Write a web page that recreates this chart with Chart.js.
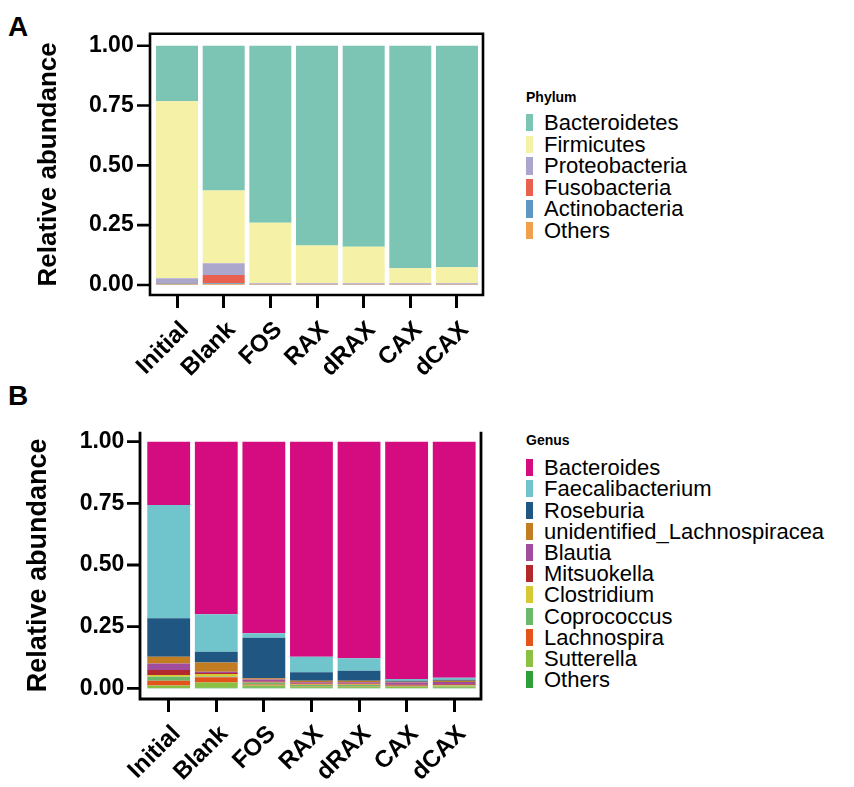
<!DOCTYPE html>
<html>
<head>
<meta charset="utf-8">
<title>Relative abundance</title>
<script src="https://cdn.jsdelivr.net/npm/chart.js@4.4.0/dist/chart.umd.min.js"></script>
<style>
  html, body { margin: 0; padding: 0; background: #fff; }
  body { width: 854px; height: 787px; position: relative; overflow: hidden;
         font-family: "Liberation Sans", Arial, sans-serif; color: #000; }
  .panel-tag { position: absolute; left: 8px; font-weight: bold; font-size: 28px; line-height: 28px; }
  .chart-box { position: absolute; left: 0; width: 500px; }
  .legend-title { position: absolute; left: 526px; font-weight: bold; font-size: 14px; line-height: 16px; }
  .legend-row { position: absolute; left: 526px; padding-left: 18px; font-size: 22px; white-space: nowrap; }
  .legend-row .swatch { position: absolute; left: 0; width: 7px; }
</style>
</head>
<body>
<div class="panel-tag" style="top:13px">A</div>
<div class="panel-tag" style="top:382px">B</div>
<div class="chart-box" style="top:0; height:380px"><canvas id="phylumChart"></canvas></div>
<div class="chart-box" style="top:380px; height:407px"><canvas id="genusChart"></canvas></div>
<div id="legendA"></div>
<div id="legendB"></div>

<script>
// --- Data ---
const groups = ['Initial', 'Blank', 'FOS', 'RAX', 'dRAX', 'CAX', 'dCAX'];
const yTicks = [0, 0.25, 0.5, 0.75, 1];

// Panel A: phylum level (legend order, top of stack first)
const phylumNames = ['Bacteroidetes', 'Firmicutes', 'Proteobacteria', 'Fusobacteria', 'Actinobacteria', 'Others'];
const phylumColors = ['#7cc4b4', '#f5f1a6', '#aba7cc', '#e9604f', '#5e97c2', '#f1a04e'];
const bacteroidetes  = [0.232, 0.605, 0.740, 0.835, 0.840, 0.930, 0.926];
const firmicutes     = [0.740, 0.304, 0.253, 0.158, 0.153, 0.063, 0.067];
const proteobacteria = [0.020, 0.049, 0.004, 0.004, 0.004, 0.004, 0.004];
const fusobacteria   = [0.002, 0.035, 0.001, 0.001, 0.001, 0.001, 0.001];
const actinobacteria = [0.004, 0.004, 0.001, 0.001, 0.001, 0.001, 0.001];
const phylumOthers   = [0.002, 0.003, 0.001, 0.001, 0.001, 0.001, 0.001];

// Panel B: genus level (legend order, top of stack first)
const genusNames = ['Bacteroides', 'Faecalibacterium', 'Roseburia', 'unidentified_Lachnospiracea', 'Blautia',
                    'Mitsuokella', 'Clostridium', 'Coprococcus', 'Lachnospira', 'Sutterella', 'Others'];
const genusColors = ['#d50c7f', '#70c5cc', '#1f5682', '#c27c22', '#a04d9e',
                     '#b3282c', '#d6c933', '#6cb86b', '#e2541c', '#8cc043', '#2f9e3a'];
const bacteroides      = [0.257, 0.700, 0.777, 0.872, 0.878, 0.962, 0.957];
const faecalibacterium = [0.459, 0.152, 0.018, 0.063, 0.051, 0.007, 0.008];
const roseburia        = [0.156, 0.043, 0.164, 0.034, 0.040, 0.004, 0.004];
const unidLachno       = [0.027, 0.038, 0.005, 0.006, 0.006, 0.003, 0.005];
const blautia          = [0.027, 0.005, 0.008, 0.006, 0.006, 0.010, 0.010];
const mitsuokella      = [0.020, 0.004, 0.004, 0.004, 0.004, 0.004, 0.004];
const clostridium      = [0.007, 0.010, 0.001, 0.002, 0.002, 0.001, 0.002];
const coprococcus      = [0.016, 0.003, 0.008, 0.004, 0.004, 0.002, 0.002];
const lachnospira      = [0.020, 0.021, 0.004, 0.002, 0.002, 0.001, 0.001];
const sutterella       = [0.010, 0.022, 0.008, 0.005, 0.005, 0.005, 0.005];
const genusOthers      = [0.001, 0.002, 0.003, 0.002, 0.002, 0.001, 0.002];

const phylumSeries = [bacteroidetes, firmicutes, proteobacteria, fusobacteria, actinobacteria, phylumOthers];
const genusSeries = [bacteroides, faecalibacterium, roseburia, unidLachno, blautia, mitsuokella,
                     clostridium, coprococcus, lachnospira, sutterella, genusOthers];

const FONT = '"Liberation Sans", Arial, sans-serif';

// Chart.js stacks the first dataset at the bottom, so reverse the legend order
function buildDatasets(names, colors, series) {
    return names.map((name, i) => ({
        label: name,
        data: series[i],
        backgroundColor: colors[i],
        borderWidth: 0,
        barPercentage: 0.9,
        categoryPercentage: 1
    })).reverse();
}

// Draws the axis frame and the y tick marks just outside the bar area
function framePlugin(cfg) {
    return {
        id: 'frame',
        afterDraw(chart) {
            const { ctx, chartArea } = chart;
            const yScale = chart.scales.y;
            const left = chartArea.left - cfg.padLeft;
            const right = chartArea.right + cfg.padRight;
            const top = chartArea.top;
            const bottom = chartArea.bottom;
            ctx.save();
            ctx.strokeStyle = '#000';
            ctx.lineWidth = cfg.lineWidth;
            ctx.beginPath();
            if (cfg.closed) {
                ctx.rect(left, top, right - left, bottom - top);
            } else {
                ctx.moveTo(left, top);
                ctx.lineTo(left, bottom);
                ctx.lineTo(right, bottom);
                ctx.lineTo(right, top);
            }
            yTicks.forEach(v => {
                const y = yScale.getPixelForValue(v);
                ctx.moveTo(left - cfg.tickLen, y);
                ctx.lineTo(left, y);
            });
            ctx.stroke();
            ctx.restore();
        }
    };
}

function makeChart(canvasId, names, colors, series, layout) {
    const ctx = document.getElementById(canvasId).getContext('2d');
    return new Chart(ctx, {
        type: 'bar',
        data: { labels: groups, datasets: buildDatasets(names, colors, series) },
        plugins: [framePlugin(layout.frame)],
        options: {
            responsive: true,
            maintainAspectRatio: false,
            animation: false,
            layout: { padding: { top: layout.top, right: layout.right, left: 0, bottom: 0 } },
            plugins: { legend: { display: false }, tooltip: { enabled: false } },
            scales: {
                x: {
                    stacked: true,
                    afterFit: s => { s.height = layout.xHeight; },
                    border: { display: false },
                    grid: { display: true, drawOnChartArea: false, offset: false,
                            drawTicks: true, tickLength: 13, tickWidth: 3, tickColor: '#000' },
                    ticks: { autoSkip: false, minRotation: 45, maxRotation: 45,
                             padding: layout.xPad, labelOffset: 8,
                             color: '#000', font: { family: FONT, size: 24, weight: 'bold' } }
                },
                y: {
                    stacked: true,
                    min: layout.yMin,
                    max: layout.yMax,
                    afterFit: s => { s.width = layout.yWidth; },
                    afterBuildTicks: s => { s.ticks = yTicks.map(v => ({ value: v })); },
                    border: { display: false },
                    grid: { display: false, drawTicks: false },
                    ticks: { padding: layout.tickPad, color: '#000',
                             font: { family: FONT, size: 23, weight: 'bold' },
                             callback: v => Number(v).toFixed(2) },
                    title: { display: true, text: 'Relative abundance', color: '#000',
                             padding: { top: layout.titlePad, bottom: 0 },
                             font: { family: FONT, size: layout.titleSize, weight: 'bold' } }
                }
            }
        }
    });
}

// Legend built in HTML from the same names and colours
function buildLegend(containerId, title, names, colors, titleCenter, firstCenter, step) {
    const box = document.getElementById(containerId);
    const t = document.createElement('div');
    t.className = 'legend-title';
    t.textContent = title;
    t.style.top = (titleCenter - 8) + 'px';
    box.appendChild(t);
    names.forEach((name, i) => {
        const row = document.createElement('div');
        row.className = 'legend-row';
        row.style.top = (firstCenter + i * step - step / 2) + 'px';
        row.style.height = step + 'px';
        row.style.lineHeight = step + 'px';
        const sw = document.createElement('span');
        sw.className = 'swatch';
        sw.style.background = colors[i];
        sw.style.top = '2px';
        sw.style.height = (step - 4) + 'px';
        row.appendChild(sw);
        row.appendChild(document.createTextNode(name));
        box.appendChild(row);
    });
}

makeChart('phylumChart', phylumNames, phylumColors, phylumSeries, {
    top: 33, right: 19.7, xHeight: 85, yWidth: 153.7, tickPad: 20, xPad: 8,
    yMin: -0.042, yMax: 1.05, titlePad: 33, titleSize: 26,
    frame: { closed: true, padLeft: 3.7, padRight: 2.7, lineWidth: 2.6, tickLen: 13 }
});

makeChart('genusChart', genusNames, genusColors, genusSeries, {
    top: 51.7, right: 22, xHeight: 88, yWidth: 144.9, tickPad: 20.5, xPad: 8,
    yMin: -0.0434, yMax: 1.0405, titlePad: 22, titleSize: 27,
    frame: { closed: false, padLeft: 4.9, padRight: 3, lineWidth: 2.8, tickLen: 13 }
});

buildLegend('legendA', 'Phylum', phylumNames, phylumColors, 97, 122.7, 21.6);
buildLegend('legendB', 'Genus', genusNames, genusColors, 440, 467.7, 21.2);
</script>
</body>
</html>
